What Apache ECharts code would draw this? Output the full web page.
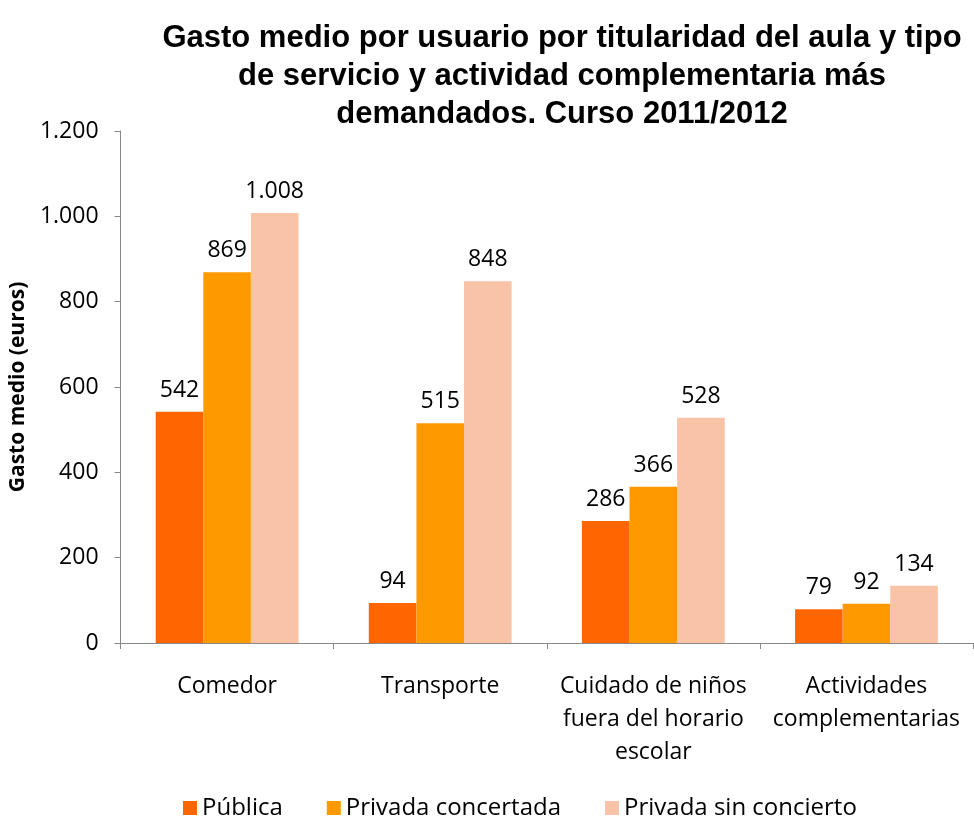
<!DOCTYPE html>
<html>
<head>
<meta charset="utf-8">
<script src="https://cdn.jsdelivr.net/npm/echarts@6/dist/echarts.min.js"></script>
<style>
  html, body { margin: 0; padding: 0; background: #fff; }
  #chart { width: 974px; height: 818px; }
</style>
</head>
<body>
<div id="chart"></div>
<script>
// categorias y valores (euros)
var categorias = ['Comedor', 'Transporte', 'Cuidado de niños\nfuera del horario\nescolar', 'Actividades\ncomplementarias'];
var publica = [542, 94, 286, 79];
var concertada = [869, 515, 366, 92];
var sinConcierto = [1008, 848, 528, 134];
var nombresSeries = ['Pública', 'Privada concertada', 'Privada sin concierto'];
var colores = ['#FF6600', '#FF9900', '#F9C3A8'];

var fuente = '"Open Sans", "Noto Sans", sans-serif';

// formato con punto de miles
function miles(v) {
    return String(v).replace(/\B(?=(\d{3})+(?!\d))/g, '.');
}

function serie(nombre, datos, color) {
    return {
        name: nombre,
        type: 'bar',
        data: datos,
        barGap: '0%',
        barCategoryGap: '33%',
        itemStyle: { color: color },
        label: {
            show: true,
            position: 'top',
            distance: 10,
            color: '#000',
            fontFamily: fuente,
            fontSize: 23,
            formatter: function (p) { return miles(p.value); }
        }
    };
}

var chart = echarts.init(document.getElementById('chart'));

var option = {
    animation: false,
    title: {
        text: 'Gasto medio por usuario por titularidad del aula y tipo\nde servicio y actividad complementaria más\ndemandados. Curso 2011/2012',
        left: 557,
        top: 14,
        textAlign: 'center',
        textStyle: {
            fontFamily: '"Liberation Sans", Arial, sans-serif',
            fontWeight: 'bold',
            fontSize: 31,
            lineHeight: 38,
            color: '#000'
        }
    },
    legend: {
        top: 791,
        left: 178,
        itemWidth: 14,
        itemHeight: 14,
        itemGap: 44,
        icon: 'rect',
        data: nombresSeries,
        textStyle: { fontFamily: fuente, fontSize: 24, color: '#000' }
    },
    grid: { left: 119, right: 1, top: 131, bottom: 175, containLabel: false },
    xAxis: {
        type: 'category',
        data: categorias,
        axisLine: { lineStyle: { color: '#888' } },
        axisTick: { show: true, length: 6, alignWithLabel: false, lineStyle: { color: '#888' } },
        axisLabel: {
            interval: 0,
            margin: 27,
            color: '#000',
            fontFamily: fuente,
            fontSize: 23,
            lineHeight: 33
        }
    },
    yAxis: {
        type: 'value',
        min: 0,
        max: 1200,
        interval: 200,
        name: 'Gasto medio (euros)',
        nameLocation: 'middle',
        nameGap: 87,
        nameTextStyle: { fontFamily: fuente, fontWeight: 'bold', fontSize: 21, color: '#000' },
        splitLine: { show: false },
        axisLine: { show: true, lineStyle: { color: '#888' } },
        axisTick: { show: true, length: 6, lineStyle: { color: '#888' } },
        axisLabel: {
            margin: 22,
            color: '#000',
            fontFamily: fuente,
            fontSize: 23,
            formatter: function (v) { return miles(v); }
        }
    },
    series: [
        serie(nombresSeries[0], publica, colores[0]),
        serie(nombresSeries[1], concertada, colores[1]),
        serie(nombresSeries[2], sinConcierto, colores[2])
    ]
};

chart.setOption(option);
</script>
</body>
</html>
